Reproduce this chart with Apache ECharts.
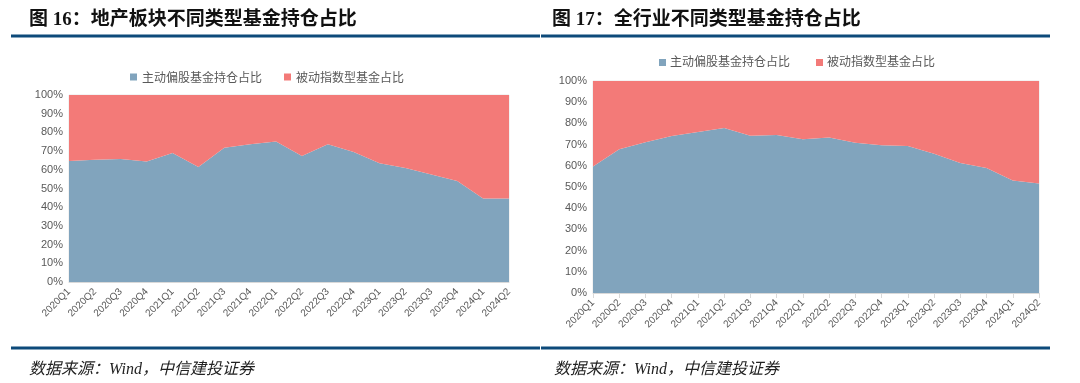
<!DOCTYPE html>
<html><head><meta charset="utf-8">
<script src="https://cdn.jsdelivr.net/npm/echarts@6/dist/echarts.min.js"></script>
<style>html,body{margin:0;padding:0;background:#fff}#c{width:1080px;height:383px}</style>
</head><body><div id="c"></div>
<script>
const categories = ['2020Q1','2020Q2','2020Q3','2020Q4','2021Q1','2021Q2','2021Q3','2021Q4','2022Q1','2022Q2','2022Q3','2022Q4','2023Q1','2023Q2','2023Q3','2023Q4','2024Q1','2024Q2'];
const seriesNames = ['主动偏股基金持仓占比','被动指数型基金占比'];
// 图16 地产板块 (%)
const estateActive  = [64.7,65.4,65.8,64.5,69.0,61.5,71.8,73.6,75.2,67.4,73.6,69.5,63.5,61.0,57.5,54.0,44.6,44.6];
const estatePassive = [35.3,34.6,34.2,35.5,31.0,38.5,28.2,26.4,24.8,32.6,26.4,30.5,36.5,39.0,42.5,46.0,55.4,55.4];
// 图17 全行业 (%)
const allActive  = [59.7,67.8,71.1,74.1,75.9,77.8,74.2,74.5,72.5,73.3,70.9,69.7,69.3,65.7,61.3,59.0,53.1,51.6];
const allPassive = [40.3,32.2,28.9,25.9,24.1,22.2,25.8,25.5,27.5,26.7,29.1,30.3,30.7,34.3,38.7,41.0,46.9,48.4];
const yTicks = [0,10,20,30,40,50,60,70,80,90,100];

const BLUE = '#81a4bd', RED = '#f37a78', DARK = '#0d4a7a', GREY = '#595959';
const chart = echarts.init(document.getElementById('c'));

function xAxis(gi, ticks){
  return {type:'category', gridIndex:gi, data:categories, boundaryGap:false,
    axisLine:{lineStyle:{color:'#d9d9d9'}}, axisTick:{show:ticks, lineStyle:{color:'#d9d9d9'}},
    axisLabel:{rotate:45, fontSize:10, color:GREY, margin:8, fontFamily:'Liberation Sans'}};
}
function yAxis(gi){
  return {type:'value', gridIndex:gi, min:0, max:100, interval:10,
    axisLine:{show:false}, axisTick:{show:false}, splitLine:{show:false},
    axisLabel:{fontSize:11, color:GREY, margin:6, fontFamily:'Liberation Sans', formatter:v=>yTicks.includes(v)?v+'%':''}};
}
function area(name, data, gi, color, stack){
  return {name, type:'line', xAxisIndex:gi, yAxisIndex:gi, stack, data,
    symbol:'none', lineStyle:{width:0}, areaStyle:{color, opacity:1}, itemStyle:{color}};
}
const lineEl = (x1,x2,y)=>({type:'line', shape:{x1,y1:y,x2,y2:y}, style:{stroke:DARK, lineWidth:3}});
const TF = '"Liberation Serif", "Noto Sans CJK SC"';
chart.setOption({
  animation:false,
  title:[
    {text:'图 16：地产板块不同类型基金持仓占比', left:24, top:6, textStyle:{fontSize:19, fontWeight:'bold', color:'#111', fontFamily:TF}},
    {text:'图 17：全行业不同类型基金持仓占比', left:547, top:6, textStyle:{fontSize:19, fontWeight:'bold', color:'#111', fontFamily:TF}},
    {text:'数据来源：Wind，中信建投证券', left:24, top:357, textStyle:{fontSize:16, fontStyle:'italic', fontWeight:'normal', color:'#222', fontFamily:TF}},
    {text:'数据来源：Wind，中信建投证券', left:549, top:357, textStyle:{fontSize:16, fontStyle:'italic', fontWeight:'normal', color:'#222', fontFamily:TF}}
  ],
  legend:[
    {data:seriesNames.map(n=>({name:n})), left:125, top:66, itemWidth:7, itemHeight:7, itemGap:22, icon:'rect',
      textStyle:{fontSize:12, color:GREY, fontFamily:'Noto Sans CJK SC'}},
  ],
  graphic:[lineEl(11,540,36), lineEl(541,1050,36), lineEl(11,540,348), lineEl(541,1050,348),
    {type:'group', left:659, top:55, children:[
      {type:'rect', shape:{x:0,y:4,width:7,height:7}, style:{fill:BLUE}},
      {type:'text', style:{x:11,y:0,text:seriesNames[0], font:'12px "Noto Sans CJK SC"', fill:GREY}},
      {type:'rect', shape:{x:157,y:4,width:7,height:7}, style:{fill:RED}},
      {type:'text', style:{x:168,y:0,text:seriesNames[1], font:'12px "Noto Sans CJK SC"', fill:GREY}}
    ]}
  ],
  grid:[
    {left:69, top:95, width:440, height:187, show:true, borderColor:'#e6e6e6', borderWidth:1, backgroundColor:'transparent'},
    {left:593, top:81, width:446, height:212, show:true, borderColor:'#e6e6e6', borderWidth:1, backgroundColor:'transparent'}
  ],
  xAxis:[xAxis(0,false), xAxis(1,true)],
  yAxis:[yAxis(0), yAxis(1)],
  series:[
    area(seriesNames[0], estateActive, 0, BLUE, 'a'),
    area(seriesNames[1], estatePassive, 0, RED, 'a'),
    area(seriesNames[0]+' ', allActive, 1, BLUE, 'b'),
    area(seriesNames[1]+' ', allPassive, 1, RED, 'b')
  ]
});
</script></body></html>
